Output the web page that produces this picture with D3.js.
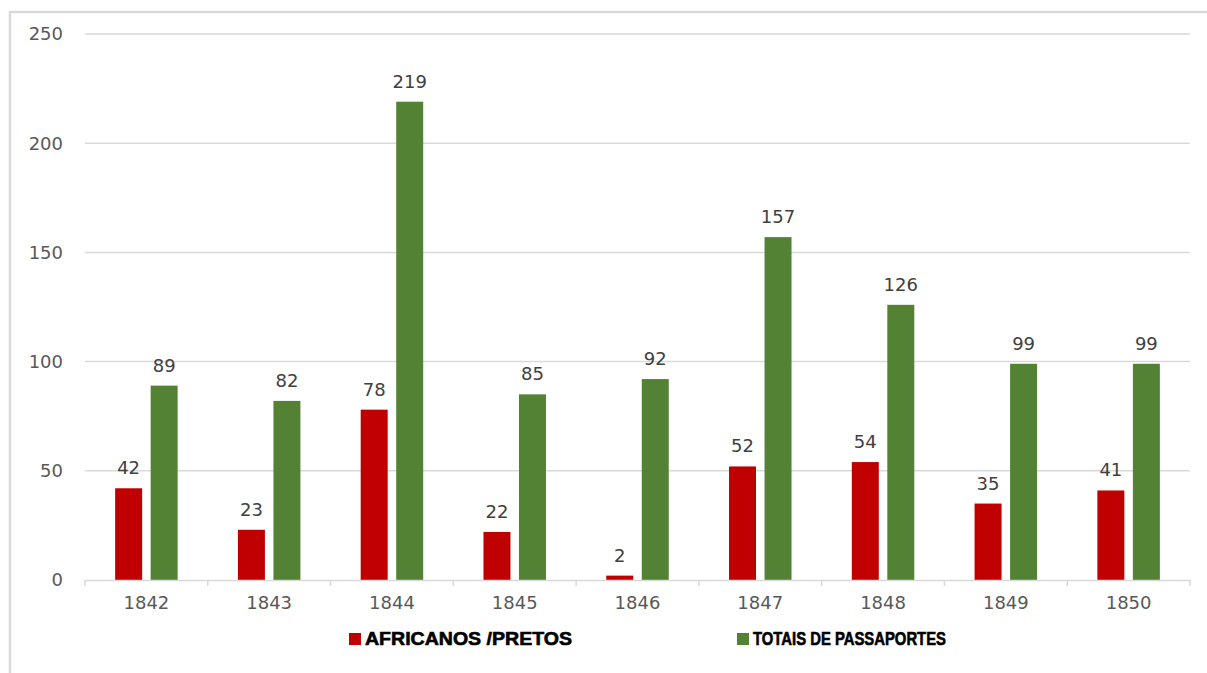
<!DOCTYPE html>
<html>
<head>
<meta charset="utf-8">
<script src="https://cdn.jsdelivr.net/npm/d3@7/dist/d3.min.js"></script>
<style>
  body { margin: 0; background: #fff; }
  svg { display: block; }
</style>
</head>
<body>
<div id="chart"></div>
<script>
// data
const years = ['1842', '1843', '1844', '1845', '1846', '1847', '1848', '1849', '1850'];
const africanos = [42, 23, 78, 22, 2, 52, 54, 35, 41];
const totais = [89, 82, 219, 85, 92, 157, 126, 99, 99];
const seriesNames = ['AFRICANOS /PRETOS', 'TOTAIS DE PASSAPORTES'];
const seriesColors = ['#c00000', '#548235'];
const yTicks = [0, 50, 100, 150, 200, 250];

const fullWidth = 1207, fullHeight = 673;
const margin = {top: 34, right: 17, bottom: 93, left: 85};
const width = fullWidth - margin.left - margin.right;
const height = fullHeight - margin.top - margin.bottom;

const svg = d3.select('#chart').append('svg')
  .attr('width', fullWidth)
  .attr('height', fullHeight);

// chart border (only left and top are in frame)
svg.append('rect')
  .attr('x', 10).attr('y', 12)
  .attr('width', fullWidth + 20).attr('height', fullHeight + 20)
  .attr('fill', 'none')
  .attr('stroke', '#d9d9d9')
  .attr('stroke-width', 2.5);

const g = svg.append('g')
  .attr('transform', `translate(${margin.left},${margin.top})`);

const xScale = d3.scaleBand()
  .domain(years)
  .range([0, width]);

const xInner = d3.scaleBand()
  .domain([0, 1])
  .range([0, 62.5])
  .paddingInner(0.24);

const yScale = d3.scaleLinear()
  .domain([0, 250])
  .range([height, 0]);

// grid
g.append('g')
  .attr('class', 'grid')
  .selectAll('line')
  .data(yTicks.slice(1))
  .join('line')
  .attr('x1', 0).attr('x2', width)
  .attr('y1', d => yScale(d)).attr('y2', d => yScale(d))
  .attr('stroke', '#d9d9d9')
  .attr('stroke-width', 1.5);

// y labels
g.append('g')
  .selectAll('text')
  .data(yTicks)
  .join('text')
  .attr('x', -22)
  .attr('y', d => yScale(d))
  .attr('dy', '0.36em')
  .attr('text-anchor', 'end')
  .attr('fill', '#595959')
  .style('font-family', 'DejaVu Sans, sans-serif')
  .style('font-size', '18px')
  .text(d => d);

// bars
const groups = g.append('g')
  .selectAll('g')
  .data(years.map((y, i) => ({year: y, vals: [africanos[i], totais[i]]})))
  .join('g')
  .attr('transform', d => `translate(${xScale(d.year) + xScale.bandwidth() / 2 - 31.25},0)`);

groups.selectAll('rect')
  .data(d => d.vals.map((v, k) => ({k, v})))
  .join('rect')
  .attr('x', d => xInner(d.k))
  .attr('width', xInner.bandwidth())
  .attr('y', d => yScale(d.v))
  .attr('height', d => yScale(0) - yScale(d.v))
  .attr('fill', d => seriesColors[d.k]);

groups.selectAll('text')
  .data(d => d.vals.map((v, k) => ({k, v})))
  .join('text')
  .attr('x', d => xInner(d.k) + xInner.bandwidth() / 2)
  .attr('y', d => yScale(d.v) - 14)
  .attr('text-anchor', 'middle')
  .attr('fill', '#404040')
  .style('font-family', 'DejaVu Sans, sans-serif')
  .style('font-size', '18px')
  .text(d => d.v);

// x axis
const xAxis = d3.axisBottom(xScale).tickSize(0).tickPadding(16);
const ax = g.append('g')
  .attr('transform', `translate(0,${height})`)
  .call(xAxis);
ax.select('.domain').attr('stroke', '#d9d9d9').attr('stroke-width', 1.5);
ax.selectAll('text')
  .attr('fill', '#595959')
  .style('font-family', 'DejaVu Sans, sans-serif')
  .style('font-size', '18px');

// category separators
ax.selectAll('line.sep')
  .data(d3.range(years.length + 1))
  .join('line')
  .attr('class', 'sep')
  .attr('x1', i => i * xScale.step()).attr('x2', i => i * xScale.step())
  .attr('y1', 0).attr('y2', 6)
  .attr('stroke', '#d9d9d9')
  .attr('stroke-width', 1.5);

// legend
const legendX = [349, 737];
const legendTextW = [207, 193];
const legend = svg.append('g')
  .selectAll('g')
  .data(seriesNames)
  .join('g')
  .attr('transform', (d, i) => `translate(${legendX[i]},633)`);

legend.append('rect')
  .attr('width', 12).attr('height', 12)
  .attr('fill', (d, i) => seriesColors[i]);

legend.append('text')
  .attr('x', 16)
  .attr('y', 6)
  .attr('dy', '0.36em')
  .attr('fill', '#000')
  .attr('stroke', '#000')
  .attr('stroke-width', 0.6)
  .attr('textLength', (d, i) => legendTextW[i])
  .attr('lengthAdjust', 'spacingAndGlyphs')
  .style('font-family', 'Liberation Sans, Arial, sans-serif')
  .style('font-weight', 'bold')
  .style('font-size', '18px')
  .text(d => d);
</script>
</body>
</html>
